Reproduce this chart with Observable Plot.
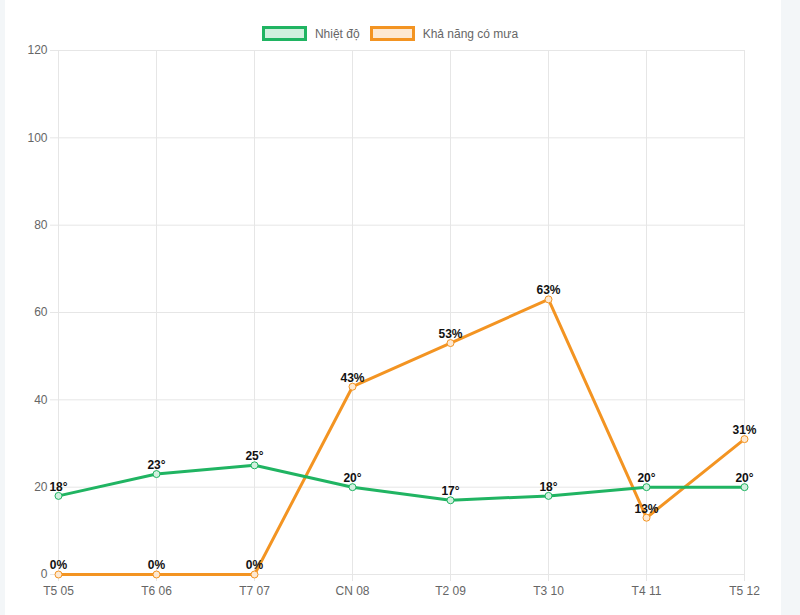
<!DOCTYPE html>
<html>
<head>
<meta charset="utf-8">
<script src="https://cdn.jsdelivr.net/npm/d3@7"></script>
<script src="https://cdn.jsdelivr.net/npm/@observablehq/plot@0.6"></script>
<style>
  html, body { margin: 0; padding: 0; background: #f3f6f8; width: 800px; height: 615px; overflow: hidden; }
  #panel { position: absolute; left: 5px; top: 0; width: 776px; height: 615px; background: #fff; }
  #chart { position: absolute; left: 0; top: 0; }
  #legend { position: absolute; top: 26px; left: 0; width: 780px; display: flex; justify-content: center; align-items: center;
            font-family: "Liberation Sans", Arial, sans-serif; font-size: 12px; color: #666; }
  .item { display: flex; align-items: center; margin: 0 5px; }
  .box { width: 39px; height: 9px; border: 3px solid; margin-right: 8px; }
</style>
</head>
<body>
<div id="panel"></div>
<div id="chart"></div>
<div id="legend"></div>
<script>
const days = ["T5 05", "T6 06", "T7 07", "CN 08", "T2 09", "T3 10", "T4 11", "T5 12"];
const temperature = [18, 23, 25, 20, 17, 18, 20, 20];
const rainChance = [0, 0, 0, 43, 53, 63, 13, 31];
const yTicks = [0, 20, 40, 60, 80, 100, 120];
const seriesNames = ["Nhiệt độ", "Khả năng có mưa"];
const seriesColors = ["#20b462", "#f39422"];
const seriesFills = ["#d2f0df", "#fde9d3"];

const tempData = days.map((d, i) => ({day: d, value: temperature[i], label: temperature[i] + "°"}));
const rainData = days.map((d, i) => ({day: d, value: rainChance[i], label: rainChance[i] + "%"}));

const chart = Plot.plot({
  width: 780,
  height: 615,
  marginTop: 50,
  marginBottom: 41,
  marginLeft: 57,
  marginRight: 35,
  style: { fontFamily: "Liberation Sans, Arial, sans-serif", fontSize: "12px", background: "transparent", overflow: "visible" },
  x: { type: "point", domain: days, padding: 0, label: null },
  y: { domain: [0, 120], label: null },
  marks: [
    Plot.gridY(yTicks, { stroke: "#e6e6e6", strokeOpacity: 1 }),
    Plot.gridX(days, { stroke: "#e6e6e6", strokeOpacity: 1 }),
    Plot.axisY(yTicks, { tickSize: 7, stroke: "#e6e6e6", fill: "#666", tickPadding: 3, fontSize: 12, label: null }),
    Plot.axisX(days, { tickSize: 7, stroke: "#e6e6e6", fill: "#666", tickPadding: 5, fontSize: 12, label: null }),
    Plot.line(rainData, { x: "day", y: "value", stroke: seriesColors[1], strokeWidth: 3 }),
    Plot.dot(rainData, { x: "day", y: "value", r: 3.5, fill: seriesFills[1], stroke: seriesColors[1], strokeWidth: 1 }),
    Plot.line(tempData, { x: "day", y: "value", stroke: seriesColors[0], strokeWidth: 3 }),
    Plot.dot(tempData, { x: "day", y: "value", r: 3.5, fill: seriesFills[0], stroke: seriesColors[0], strokeWidth: 1 }),
    Plot.text(rainData, { x: "day", y: "value", text: "label", dy: -9, fontWeight: "bold", fontSize: 12, fill: "#111" }),
    Plot.text(tempData, { x: "day", y: "value", text: "label", dy: -9, fontWeight: "bold", fontSize: 12, fill: "#111" })
  ]
});
document.getElementById("chart").appendChild(chart);

const legend = document.getElementById("legend");
seriesNames.forEach((name, i) => {
  const item = document.createElement("div");
  item.className = "item";
  const box = document.createElement("div");
  box.className = "box";
  box.style.borderColor = seriesColors[i];
  box.style.background = seriesFills[i];
  const label = document.createElement("span");
  label.textContent = name;
  item.appendChild(box);
  item.appendChild(label);
  legend.appendChild(item);
});
</script>
</body>
</html>
